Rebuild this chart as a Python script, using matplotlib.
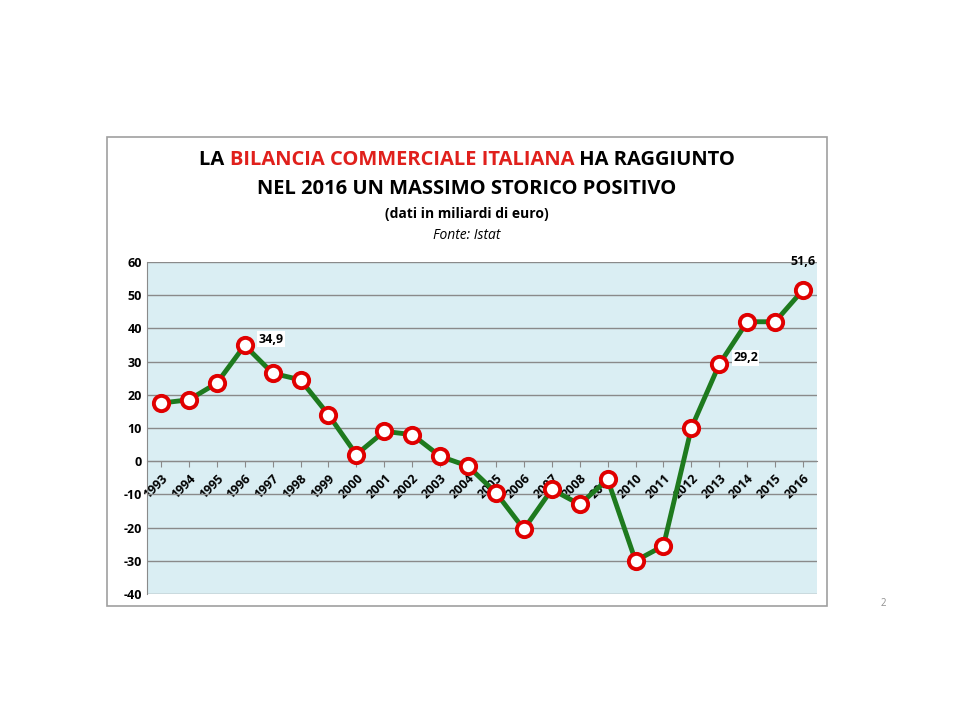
"""Bilancia commerciale italiana 1993-2016."""

import matplotlib
matplotlib.use('Agg')
import matplotlib.pyplot as plt
from matplotlib.patches import Rectangle

years = [str(y) for y in range(1993, 2017)]
saldo = [17.5, 18.5, 23.5, 34.9, 26.5, 24.5, 14.0, 2.0, 9.0, 8.0, 1.5, -1.5,
         -9.5, -20.5, -8.5, -13.0, -5.5, -30.0, -25.5, 10.0, 29.2, 42.0,
         42.0, 51.6]
labelled = {'1996': '34,9', '2013': '29,2', '2016': '51,6'}
yticks = list(range(-40, 61, 10))

plt.rcParams['font.family'] = 'Open Sans'

fig = plt.figure(figsize=(9.6, 7.2), dpi=100)
fig.patches.append(Rectangle((107 / 960, 1 - 606 / 720), 720 / 960, 469 / 720,
                             transform=fig.transFigure, fill=False,
                             edgecolor='#a0a0a0', linewidth=1.2))

ax = fig.add_axes([147 / 960, 1 - 594 / 720, 670 / 960, 332 / 720])
ax.set_facecolor('#daeef3')
x = list(range(len(years)))
ax.plot(x, saldo, color='#1e7a1e', linewidth=3.5, marker='o', markersize=11,
        markerfacecolor='white', markeredgecolor='#e00000',
        markeredgewidth=2.8, zorder=3)
for i, yr in enumerate(years):
    if yr in labelled:
        if yr == '2016':
            ax.annotate(labelled[yr], (i, saldo[i]), xytext=(0, 18),
                        textcoords='offset points', ha='center',
                        fontsize=9, fontweight='bold')
        else:
            ax.annotate(labelled[yr], (i, saldo[i]), xytext=(10, 2),
                        textcoords='offset points', ha='left',
                        fontsize=9, fontweight='bold',
                        bbox=dict(facecolor='white', edgecolor='none', pad=1))

ax.set_xlim(-0.5, len(years) - 0.5)
ax.set_ylim(-40, 60)
ax.set_yticks(yticks)
ax.set_yticklabels([str(t) for t in yticks], fontsize=9, fontweight='bold')
ax.yaxis.grid(True, color='#8a8a8a', linewidth=1)
ax.set_axisbelow(True)
ax.tick_params(axis='y', length=0)
for s in ['top', 'right']:
    ax.spines[s].set_visible(False)
ax.spines['left'].set_color('#8a8a8a')
ax.spines['bottom'].set_position(('data', 0))
ax.spines['bottom'].set_color('#8a8a8a')
ax.set_xticks(x)
ax.set_xticklabels(years, rotation=45, ha='right', rotation_mode='anchor',
                   fontsize=9, fontweight='bold')
ax.tick_params(axis='x', length=4, color='#8a8a8a')

# title, first line in two colours
parts = [('LA ', 'black'), ('BILANCIA COMMERCIALE ITALIANA', '#e0201c'),
         (' HA RAGGIUNTO', 'black')]
texts = []
for txt, col in parts:
    texts.append(fig.text(0, 1 - 160 / 720, txt, color=col, fontsize=14.5,
                          fontweight='bold', va='center', ha='left'))
fig.canvas.draw()
r = fig.canvas.get_renderer()
widths = [t.get_window_extent(r).width for t in texts]
xpos = 467 - sum(widths) / 2
for t, w in zip(texts, widths):
    t.set_x(xpos / 960)
    xpos += w
fig.text(467 / 960, 1 - 189 / 720, 'NEL 2016 UN MASSIMO STORICO POSITIVO',
         fontsize=14.5, fontweight='bold', ha='center', va='center')
fig.text(467 / 960, 1 - 214 / 720, '(dati in miliardi di euro)',
         fontsize=10, fontweight='bold', ha='center', va='center')
fig.text(467 / 960, 1 - 236 / 720, 'Fonte: Istat', fontsize=10,
         style='italic', ha='center', va='center')
fig.text(883 / 960, 1 - 604 / 720, '2', fontsize=7, color='#909090',
         ha='center', va='center')

fig.savefig('out.png')
